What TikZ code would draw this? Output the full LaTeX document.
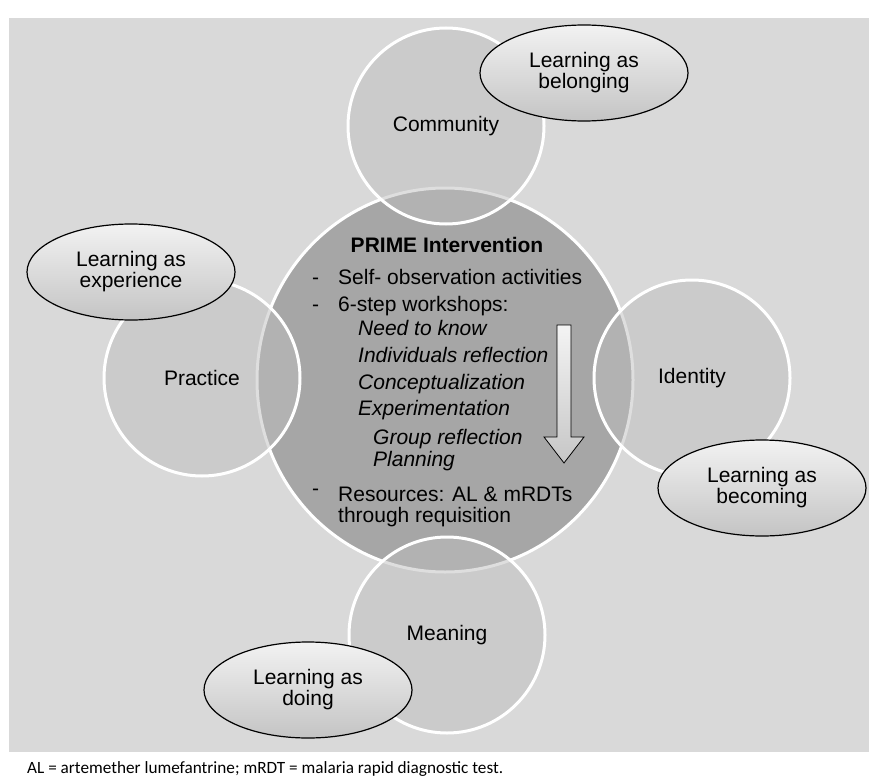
\documentclass[tikz,border=0pt]{standalone}
\usepackage{fontspec}
\setmainfont{Liberation Sans}
\newfontfamily\capfont{Carlito}
\usetikzlibrary{shapes.geometric}
\definecolor{bggray}{HTML}{D9D9D9}
\definecolor{centergray}{HTML}{A6A6A6}
\definecolor{outergray}{HTML}{BEBEBE}
\definecolor{elltop}{HTML}{F2F2F2}
\definecolor{ellbot}{HTML}{C4C4C4}
\definecolor{arrtop}{HTML}{F4F4F4}
\definecolor{arrbot}{HTML}{C6C6C6}
\tikzset{
  outercirc/.style={circle, minimum size=196pt, inner sep=0pt, fill=outergray,
    fill opacity=0.5, text opacity=1, draw=white, line width=3pt,
    font=\fontsize{21}{21}\selectfont},
  learnell/.style={ellipse, minimum width=208pt, minimum height=96pt, inner sep=0pt,
    draw=black, line width=1.2pt, top color=elltop, bottom color=ellbot,
    align=center, font=\fontsize{21}{21}\selectfont},
  lst/.style={anchor=base west, inner sep=0pt, font=\fontsize{21}{25}\selectfont},
  ilst/.style={lst, font=\fontsize{21}{25}\selectfont\itshape}
}
\begin{document}
\begin{tikzpicture}[x=1pt,y=-1pt]
\useasboundingbox (0,0) rectangle (869,778);
\fill[white] (0,0) rectangle (869,778);
\fill[bggray] (9,18) rectangle (869,752);

% central circle
\node[ellipse, minimum width=376pt, minimum height=384pt, inner sep=0pt,
      fill=centergray, draw=white, line width=3pt] (prime) at (445,380) {};

% outer circles
\node[outercirc] (community) at (446,126) {Community};
\node[outercirc] (practice) at (202,378) {Practice};
\node[outercirc] (identity) at (692,378) {Identity};
\node[outercirc] (meaning) at (447,635) {Meaning};

% learning ellipses
\node[learnell] (belonging) at (584,73) {Learning as\\belonging};
\node[learnell] (experience) at (131,272) {Learning as\\experience};
\node[learnell] (becoming) at (762,488) {Learning as\\becoming};
\node[learnell] (doing) at (308,690) {Learning as\\doing};

% central text
\node[anchor=base, inner sep=0pt, font=\fontsize{21}{25}\selectfont\bfseries] (title) at (447,252) {PRIME Intervention};
\node[lst] (l1) at (312,284) {\makebox[26pt][l]{-}Self- observation activities};
\node[lst] (l2) at (312,311) {\makebox[26pt][l]{-}6-step workshops:};
\node[ilst] (l3) at (358,335) {Need to know};
\node[ilst] (l4) at (358,362) {Individuals reflection};
\node[ilst] (l5) at (358,389) {Conceptualization};
\node[ilst] (l6) at (358,415) {Experimentation};
\node[ilst] (l7) at (373,444) {Group reflection};
\node[ilst] (l8) at (373,466) {Planning};
\node[lst] (l9) at (312,501) {\makebox[26pt][l]{\raisebox{6pt}{-}}Resources: AL \& mRDTs};
\node[lst] (l10) at (338,522) {through requisition};

% block arrow
\path[draw=black, line width=0.8pt, top color=arrtop, bottom color=arrbot]
  (557,325) -- (571,325) -- (571,437) -- (584,437) -- (564,463) -- (544,437) -- (557,437) -- cycle;

% caption
\node[anchor=base west, inner sep=0pt, font=\capfont\fontsize{17.2}{19}\selectfont] (caption) at (27,773)
  {AL = artemether lumefantrine; mRDT = malaria rapid diagnostic test.};
\end{tikzpicture}
\end{document}
